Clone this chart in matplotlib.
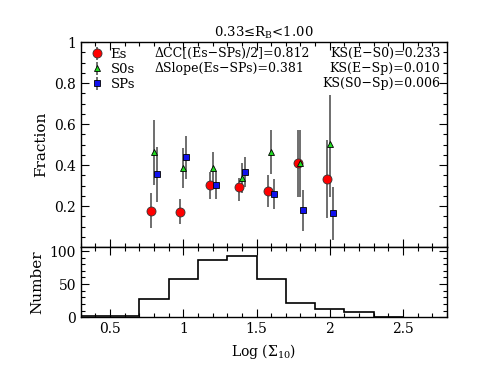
import numpy as np
import matplotlib
matplotlib.use("Agg")
import matplotlib.pyplot as plt
from matplotlib.ticker import MultipleLocator

plt.rcParams['font.family'] = ['DejaVu Serif']
plt.rcParams['mathtext.fontset'] = 'dejavuserif'

# bin centres in Log(Sigma_10)
xbin = np.array([0.8, 1.0, 1.2, 1.4, 1.6, 1.8, 2.0])

# fractions and error-bar extents (lower, upper)
es_frac = [0.176, 0.173, 0.304, 0.291, 0.275, 0.408, 0.332]
es_lo = [0.091, 0.112, 0.234, 0.226, 0.197, 0.245, 0.140]
es_hi = [0.262, 0.234, 0.367, 0.338, 0.351, 0.571, 0.522]

s0_frac = [0.465, 0.385, 0.385, 0.337, 0.465, 0.408, 0.501]
s0_lo = [0.302, 0.286, 0.319, 0.262, 0.356, 0.245, 0.245]
s0_hi = [0.620, 0.481, 0.462, 0.408, 0.571, 0.571, 0.740]

sp_frac = [0.356, 0.437, 0.304, 0.367, 0.257, 0.180, 0.164]
sp_lo = [0.221, 0.330, 0.234, 0.291, 0.184, 0.080, 0.034]
sp_hi = [0.486, 0.541, 0.370, 0.440, 0.330, 0.278, 0.291]

# histogram of the number of galaxies
hist_edges = [0.3, 0.5, 0.7, 0.9, 1.1, 1.3, 1.5, 1.7, 1.9, 2.1, 2.3, 2.5]
hist_counts = [2, 2, 28, 57, 87, 92, 58, 22, 12, 8, 0]

fig = plt.figure(figsize=(4.96, 3.83), dpi=100)
ax1 = fig.add_axes([0.163, 0.355, 0.738, 0.535])
ax2 = fig.add_axes([0.163, 0.172, 0.738, 0.183], sharex=ax1)

def yerr(f, lo, hi):
    f = np.array(f)
    return [f - np.array(lo), np.array(hi) - f]

ecol = '#555555'
ax1.errorbar(xbin - 0.02, es_frac, yerr=yerr(es_frac, es_lo, es_hi), fmt='o',
             ms=6.5, mfc='red', mec='#333333', mew=0.6, ecolor=ecol, elinewidth=1.2,
             capsize=0, label='Es', zorder=3)
ax1.errorbar(xbin, s0_frac, yerr=yerr(s0_frac, s0_lo, s0_hi), fmt='^',
             ms=5, mfc='#22dd22', mec='black', mew=0.6, ecolor=ecol, elinewidth=1.2,
             capsize=0, label='S0s', zorder=3)
ax1.errorbar(xbin + 0.02, sp_frac, yerr=yerr(sp_frac, sp_lo, sp_hi), fmt='s',
             ms=4.5, mfc='#1111ee', mec='black', mew=0.6, ecolor=ecol, elinewidth=1.2,
             capsize=0, label='SPs', zorder=3)

ax1.set_xlim(0.3, 2.8)
ax1.set_ylim(0, 1)
ax1.set_ylabel('Fraction', fontsize=11)
ax1.set_title('0.33≤R$_\\mathrm{B}$<1.00', fontsize=9.5, pad=4)
ax1.set_yticks([0.2, 0.4, 0.6, 0.8, 1.0])
ax1.set_yticklabels(['0.2', '0.4', '0.6', '0.8', '1'])
ax1.yaxis.set_minor_locator(MultipleLocator(0.05))
ax1.tick_params(labelbottom=False)

ax1.legend(loc='upper left', frameon=False, fontsize=9.5, handletextpad=0.2,
           borderaxespad=0.25, labelspacing=0.15, handlelength=1.6, borderpad=0.2)

tfs = 9
ax1.text(0.2, 0.946, 'ΔCC[(Es−SPs)/2]=0.812', transform=ax1.transAxes,
         fontsize=tfs, va='center', ha='left')
ax1.text(0.2, 0.873, 'ΔSlope(Es−SPs)=0.381', transform=ax1.transAxes,
         fontsize=tfs, va='center', ha='left')
ax1.text(0.982, 0.946, 'KS(E−S0)=0.233', transform=ax1.transAxes,
         fontsize=tfs, va='center', ha='right')
ax1.text(0.982, 0.873, 'KS(E−Sp)=0.010', transform=ax1.transAxes,
         fontsize=tfs, va='center', ha='right')
ax1.text(0.982, 0.800, 'KS(S0−Sp)=0.006', transform=ax1.transAxes,
         fontsize=tfs, va='center', ha='right')

ax2.stairs(hist_counts, hist_edges, color='black', lw=1.2)
ax2.set_ylim(0, 106)
ax2.set_yticks([0, 50, 100])
ax2.yaxis.set_minor_locator(MultipleLocator(10))
ax2.set_ylabel('Number', fontsize=11)
ax2.set_xlabel('Log (Σ$_{10}$)', fontsize=10)
ax2.set_xticks([0.5, 1, 1.5, 2, 2.5])
ax2.set_xticklabels(['0.5', '1', '1.5', '2', '2.5'])

for ax in (ax1, ax2):
    ax.xaxis.set_minor_locator(MultipleLocator(0.1))
    ax.tick_params(which='both', direction='in', top=True, right=True, labelsize=10)
    ax.tick_params(which='major', length=6, width=0.8)
    ax.tick_params(which='minor', length=3, width=0.8)
    for s in ax.spines.values():
        s.set_linewidth(1.0)

fig.align_ylabels([ax1, ax2])
fig.savefig('out.png', dpi=100)
